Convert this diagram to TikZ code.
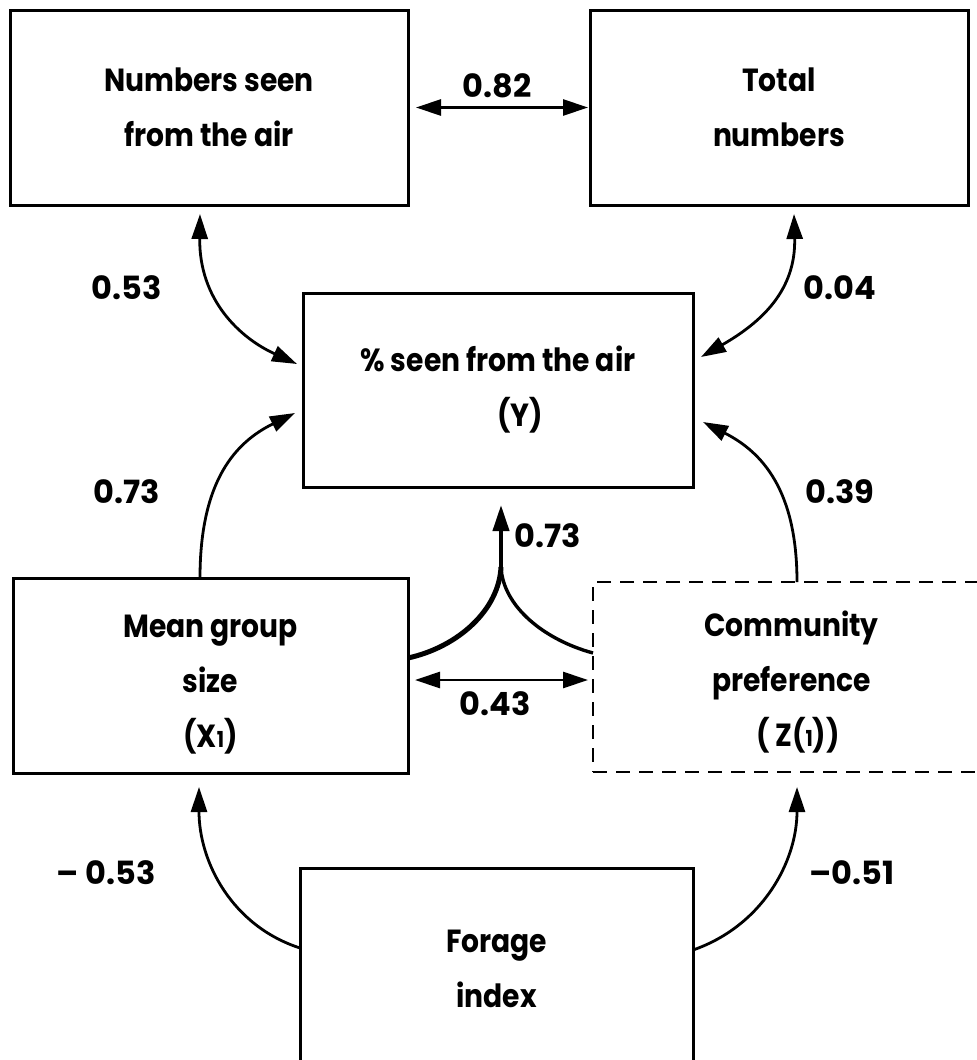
\documentclass[tikz,border=0pt]{standalone}
\usepackage{fontspec}
\setmainfont{Poppins}[BoldFeatures={FakeStretch=0.88}]
\newfontfamily\labfont{Poppins}
\usetikzlibrary{arrows.meta,calc}
\begin{document}
\begin{tikzpicture}[x=1pt,y=-1pt,
  every node/.style={font=\fontsize{32}{55}\selectfont\bfseries},
  box/.style={draw,line width=3pt,inner sep=0pt,outer sep=0pt,align=center},
  dbox/.style={box,dashed,dash pattern=on 14pt off 9pt,line width=2.6pt},
  lab/.style={inner sep=0pt,font=\labfont\fontsize{32}{36}\selectfont\bfseries},
  conn/.style={line width=2.8pt,-{Triangle[length=25pt,width=16pt]}},
  dconn/.style={line width=2.8pt,{Triangle[length=25pt,width=16pt]}-{Triangle[length=25pt,width=16pt]}}
]
\useasboundingbox (0,0) rectangle (977,1060);
\fill[white] (0,0) rectangle (977,1060);
% boxes
\node[box,minimum width=398pt,minimum height=195pt] (A) at (209,107.5) {Numbers seen\\from the air};
\node[box,minimum width=378pt,minimum height=195pt] (B) at (779,107.5) {Total\\numbers};
\node[box,minimum width=390pt,minimum height=194pt] (Y) at (498,390) {\% seen from the air\\\hspace*{1.4em}(Y)};
\node[box,minimum width=395pt,minimum height=195pt] (M) at (210.5,675.5) {\rule{0pt}{40pt}Mean group\\size\\(X{\fontsize{22}{22}\selectfont 1})};
\node[dbox,minimum width=397pt,minimum height=190pt] (C) at (791.5,677) {\rule{0pt}{36pt}Community\\preference\\\hspace*{0.4em}( Z({\fontsize{22}{22}\selectfont 1}))};
\node[box,minimum width=393pt,minimum height=202pt] (F) at (496.5,969) {Forage\\index};
% helper coordinates
\coordinate (Atip) at ($(A.south)+(-9,9)$);
\coordinate (Btip) at ($(B.south)+(15,9)$);
\coordinate (YL1) at ($(Y.west)+(-6,-26)$);
\coordinate (YR1) at ($(Y.east)+(8,-33)$);
\coordinate (YL2) at ($(Y.west)+(-8,23)$);
\coordinate (YR2) at ($(Y.east)+(10,32)$);
\coordinate (Mtop) at ($(M.north)+(-10.5,0)$);
\coordinate (Ctop) at ($(C.north)+(5.5,0)$);
\coordinate (Mbot) at ($(M.south)+(-11.5,14)$);
\coordinate (Cbot) at ($(C.south)+(5.5,15)$);
\coordinate (Fl) at ($(F.west)+(0,-21)$);
\coordinate (Fr) at ($(F.east)+(0,-19)$);
\coordinate (J) at (501,567);
\coordinate (Ytip) at ($(Y.south)+(3,18)$);
\coordinate (Mr) at ($(M.east)+(0,-17.5)$);
\coordinate (Cl) at ($(C.west)+(0,-24)$);
% 0.82
\draw[dconn] ($(A.east)+(8,0)$) -- ($(B.west)+(-2,0)$);
\node[lab] (l82) at (497,86) {0.82};
% 0.53
\draw[dconn] (Atip) .. controls (199,300) and (240,338) .. (YL1);
\node[lab] (l53) at (127,288) {0.53};
% 0.04
\draw[dconn] (Btip) .. controls (796,290) and (762,322) .. (YR1);
\node[lab] (l04) at (840,288) {0.04};
% 0.73 left
\draw[conn] (Mtop) .. controls (200,480) and (236,442) .. (YL2);
\node[lab] (l73a) at (127,492) {0.73};
% 0.39
\draw[conn] (Ctop) .. controls (797,490) and (762,452) .. (YR2);
\node[lab] (l39) at (840,492) {0.39};
% middle joint
\draw[line width=5pt] (Mr) .. controls (458,647) and (499,610) .. (J);
\draw[line width=3.4pt] (Cl) .. controls (545,640) and (503,607) .. (J);
\draw[line width=4pt,-{Triangle[length=26pt,width=16pt]}] (J) -- (Ytip);
\node[lab] (l73b) at (548,536) {0.73};
% 0.43
\draw[dconn] ($(M.east)+(7,4.5)$) -- ($(C.west)+(-5,3)$);
\node[lab] (l43) at (495,704) {0.43};
% -0.53
\draw[conn] (Fl) .. controls (232,926) and (199,862) .. (Mbot);
\node[lab] (lm53) at (106,873) {– 0.53};
% -0.51
\draw[conn] (Fr) .. controls (762,926) and (797,862) .. (Cbot);
\node[lab] (lm51) at (852,873) {–0.51};
\end{tikzpicture}
\end{document}
